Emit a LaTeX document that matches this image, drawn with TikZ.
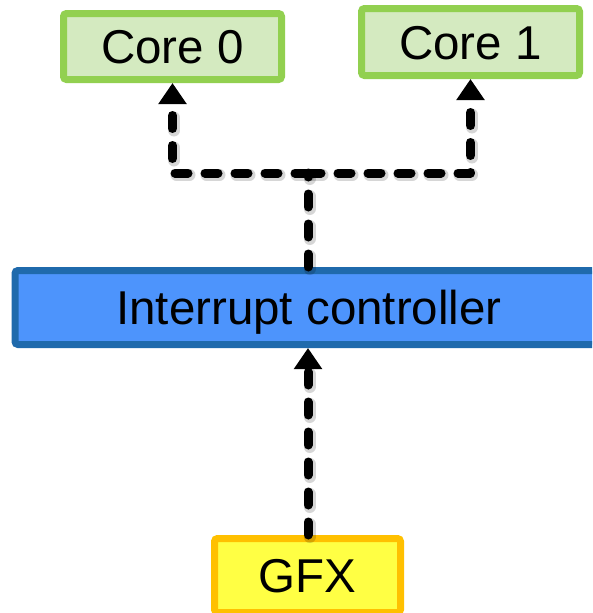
\documentclass[tikz,border=0pt]{standalone}
\usepackage{fontspec}
\setmainfont{Liberation Sans}
\usetikzlibrary{arrows.meta}

\definecolor{corefill}{RGB}{212,234,192}
\definecolor{coreline}{RGB}{146,208,80}
\definecolor{icfill}{RGB}{77,148,252}
\definecolor{icline}{RGB}{31,106,172}
\definecolor{gfxfill}{RGB}{255,255,68}
\definecolor{gfxline}{RGB}{255,192,0}

\tikzset{
  box/.style={rectangle, rounded corners=3pt, line width=7pt, inner sep=0pt,
    font=\fontsize{47.5}{56}\selectfont, text=black,
    text height=34pt, text depth=0pt},
  corebox/.style={box, draw=coreline, fill=corefill, minimum width=218pt, minimum height=66pt},
  icbox/.style={box, draw=icline, fill=icfill, minimum width=588pt, minimum height=74pt},
  gfxbox/.style={box, draw=gfxline, fill=gfxfill, minimum width=186pt, minimum height=74pt},
  linkbase/.style={line width=9pt, line cap=round, line join=round,
    dash pattern=on 13pt off 17pt},
  linkshadow/.style={linkbase, draw=black, opacity=0.16, line width=12pt,
    transform canvas={shift={(1.5pt,-2pt)}}},
  irq/.style={linkbase, -{Triangle[length=21pt,width=27pt]}},
  irqplain/.style={linkbase}
}

\begin{document}
\begin{tikzpicture}[x=1pt, y=-1pt]
  \useasboundingbox (0,0) rectangle (592,613);
  \clip (0,0) rectangle (592,613);

  % processing units
  \node[corebox] (core0) at (172.5,46.5) {Core 0};
  \node[corebox, minimum height=67pt] (core1) at (470.5,42) {Core 1};
  \node[icbox] (ic) at (309,307.5) {Interrupt controller};
  \node[gfxbox] (gfx) at (307.5,575.5) {GFX};

  % split point above the controller
  \coordinate (split) at (308,173);

  % soft shadows under the interrupt lines
  \draw[linkshadow] (gfx.north -| 308,0) -- ([yshift=-22pt]ic.south -| 308,0);
  \draw[linkshadow] (ic.north -| 308,0) -- (split);
  \draw[linkshadow] (split) -| ([yshift=-22pt]core0.south);
  \draw[linkshadow] (split) -| ([yshift=-22pt]core1.south);

  % interrupt routing
  \draw[irq] (gfx.north -| 308,0) -- (ic.south -| 308,0);
  \draw[irqplain] (ic.north -| 308,0) -- (split);
  \draw[irq] (split) -| (core0.south);
  \draw[irq] (split) -| (core1.south);
\end{tikzpicture}
\end{document}
